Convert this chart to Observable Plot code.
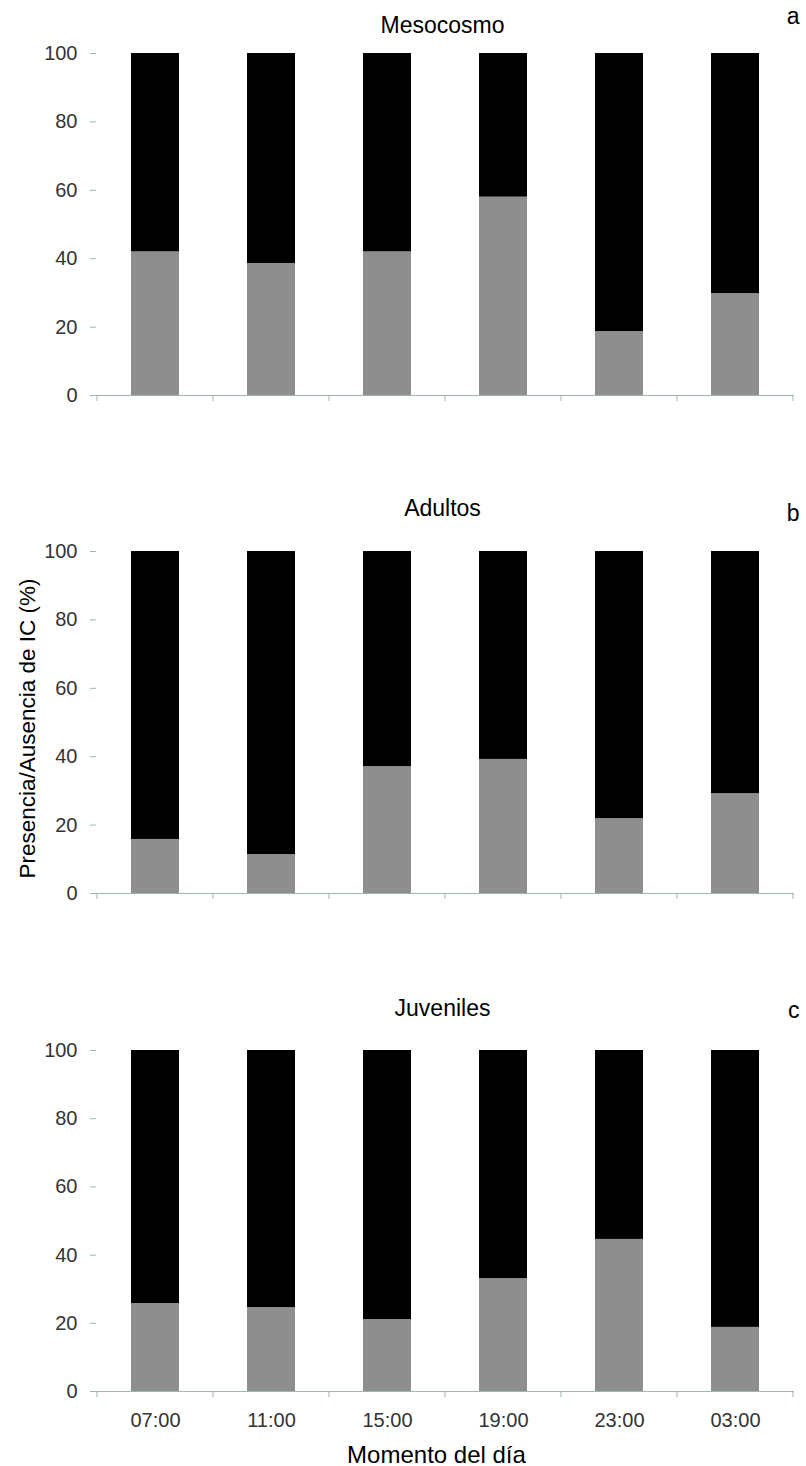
<!DOCTYPE html>
<html>
<head>
<meta charset="utf-8">
<script src="https://cdn.jsdelivr.net/npm/d3@7"></script>
<script src="https://cdn.jsdelivr.net/npm/@observablehq/plot@0.6"></script>
<style>
  html, body { margin: 0; padding: 0; background: #fff; }
  #chart { width: 806px; }
  #chart svg { display: block; }
</style>
</head>
<body>
<div id="chart"></div>
<script>
// ---- Data ----
const horas = ["07:00", "11:00", "15:00", "19:00", "23:00", "03:00"];
const presenciaMesocosmo = [42, 38.6, 42, 58, 18.7, 29.8];
const presenciaAdultos = [15.8, 11.4, 37.1, 39.2, 21.9, 29.2];
const presenciaJuveniles = [25.8, 24.6, 21.1, 33.1, 44.6, 18.8];
const yTicks = [0, 20, 40, 60, 80, 100];
const estados = ["Presencia", "Ausencia"];
const paneles = [
  {titulo: "Mesocosmo", letra: "a", valores: presenciaMesocosmo},
  {titulo: "Adultos", letra: "b", valores: presenciaAdultos},
  {titulo: "Juveniles", letra: "c", valores: presenciaJuveniles}
];
const yLabel = "Presencia/Ausencia de IC (%)";
const xLabel = "Momento del día";

// ---- Styles ----
const font = "'Liberation Sans', Arial, Helvetica, sans-serif";
const axisColor = "#9db5b5";
const tickTextColor = "#333";

const layouts = [
  {height: 440, marginTop: 53, marginBottom: 45, titleDy: -21, letterDy: -30},
  {height: 500, marginTop: 111, marginBottom: 47, titleDy: -36, letterDy: -31},
  {height: 526, marginTop: 110, marginBottom: 75, titleDy: -35, letterDy: -33}
];

function boundaryTicks(index, scales) {
  const x = scales.x, y = scales.y;
  const bw = x.bandwidth();
  const step = x(horas[1]) - x(horas[0]);
  const gap = (step - bw) / 2;
  const xs = horas.map(h => x(h) - gap);
  xs.push(x(horas[horas.length - 1]) + bw + gap);
  const g = d3.create("svg:g").attr("stroke", axisColor).attr("stroke-width", 1);
  g.selectAll("line").data(xs).join("line")
    .attr("x1", d => d).attr("x2", d => d)
    .attr("y1", y(0)).attr("y2", y(0) + 6);
  return g.node();
}

const chart = document.getElementById("chart");

paneles.forEach((p, k) => {
  const L = layouts[k];
  const rows = [];
  horas.forEach((h, i) => {
    rows.push({hora: h, estado: "Presencia", valor: p.valores[i]});
    rows.push({hora: h, estado: "Ausencia", valor: 100 - p.valores[i]});
  });
  const last = k === paneles.length - 1;
  const marks = [
    Plot.barY(rows, {x: "hora", y: "valor", fill: "estado"}),
    Plot.ruleY([0], {stroke: axisColor}),
    boundaryTicks,
    Plot.axisY({ticks: yTicks, tickSize: 6, tickPadding: 13, fontSize: 20,
      stroke: axisColor, fill: tickTextColor, label: null, line: true}),
    Plot.text([p.titulo], {frameAnchor: "top", dy: L.titleDy, dx: -3, lineAnchor: "bottom",
      fontSize: 23, fill: "#000", text: d => d}),
    Plot.text([p.letra], {frameAnchor: "top-right", dy: L.letterDy, dx: 5, lineAnchor: "bottom",
      textAnchor: "end", fontSize: 23, fill: "#000", text: d => d})
  ];
  if (k === 1) {
    marks.push(Plot.text([yLabel], {frameAnchor: "left", textAnchor: "middle", rotate: -90, dx: -69, dy: 6,
      fontSize: 22.5, fill: "#000", text: d => d}));
  }
  if (last) {
    marks.push(Plot.axisX({tickSize: 0, tickPadding: 21, fontSize: 20, fill: tickTextColor, label: null}));
    marks.push(Plot.text([xLabel], {frameAnchor: "bottom", dy: 71, dx: -9, lineAnchor: "bottom",
      fontSize: 24, fill: "#000", text: d => d}));
  }
  const plot = Plot.plot({
    width: 806,
    height: L.height,
    marginLeft: 96,
    marginRight: 12,
    marginTop: L.marginTop,
    marginBottom: L.marginBottom,
    style: {fontFamily: font, background: "#fff", overflow: "visible"},
    x: {domain: horas, paddingInner: 0.587, paddingOuter: 0.2935, ...(last ? {} : {axis: null})},
    y: {domain: [0, 100]},
    color: {domain: estados, range: ["#8e8e8e", "#000000"]},
    marks
  });
  chart.appendChild(plot);
});
</script>
</body>
</html>
